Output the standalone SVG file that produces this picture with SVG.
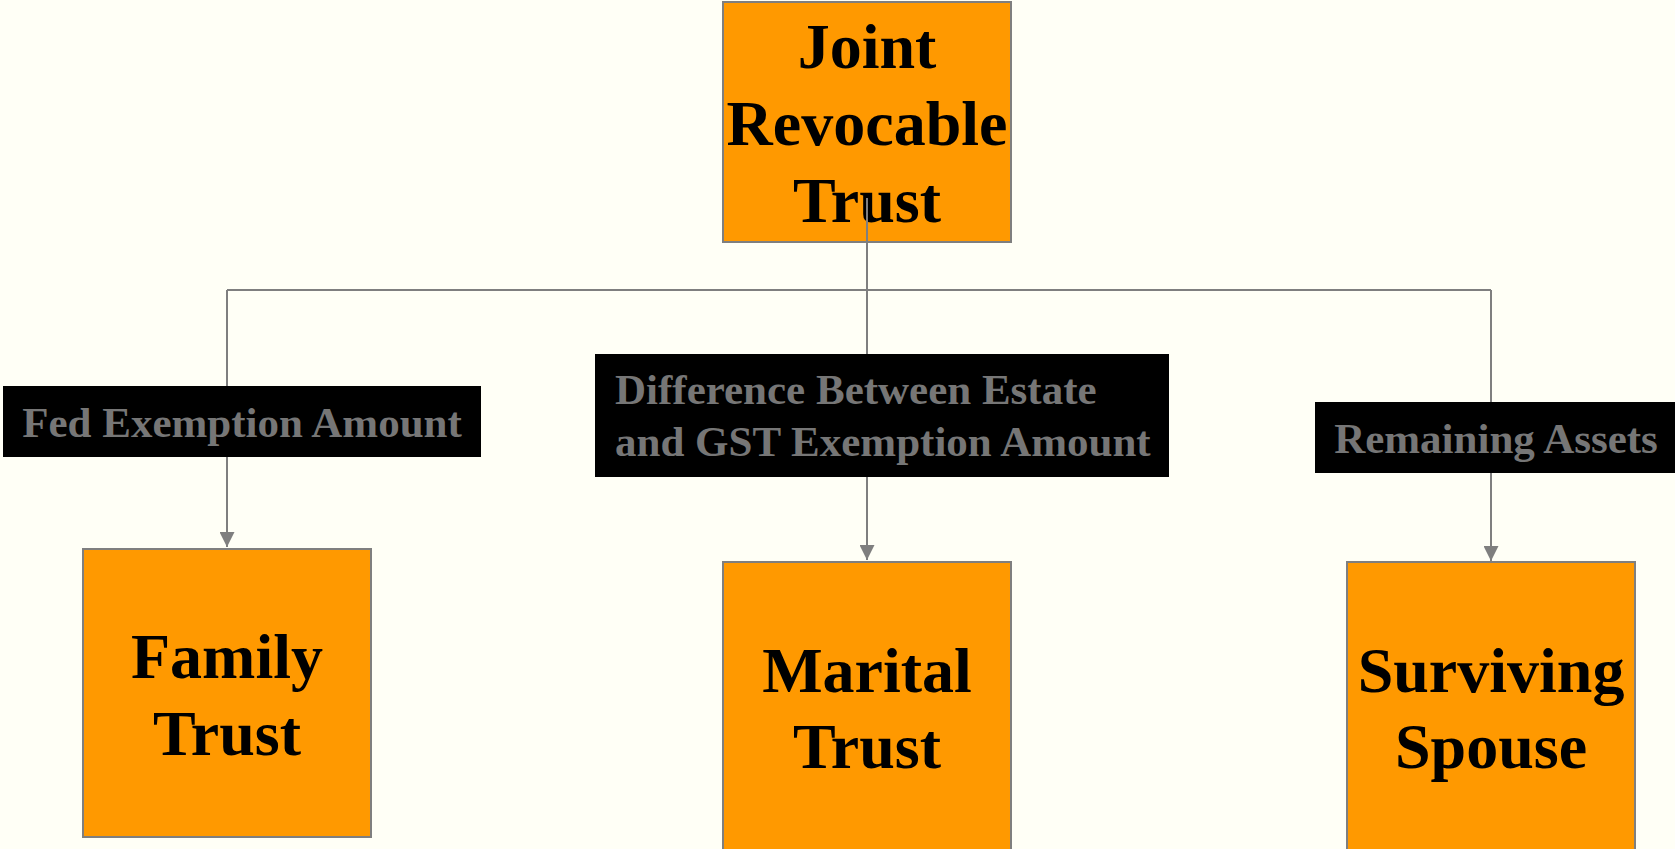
<svg xmlns="http://www.w3.org/2000/svg" width="1675" height="849" viewBox="0 0 1675 849">
<style>
.box{fill:#FF9900;stroke:#7F7F7F;stroke-width:2}
.nt{font-family:"Liberation Serif","Times New Roman",serif;font-weight:bold;font-size:64px;fill:#000;text-anchor:middle}
.lb{fill:#000}
.lt{font-family:"Liberation Serif","Times New Roman",serif;font-weight:bold;font-size:43px;fill:#767676}
.cn{fill:none;stroke:#7F7F7F;stroke-width:2}
</style>
<defs>
<marker id="arr" viewBox="0 0 10 10" refX="10" refY="5" markerWidth="15" markerHeight="15" markerUnits="userSpaceOnUse" orient="auto">
<path d="M0,0 L10,5 L0,10 z" fill="#7F7F7F"/>
</marker>
</defs>
<rect width="1675" height="849" fill="#FFFFF6"/>
<g id="joint">
<rect class="box" x="723" y="2" width="288" height="240"/>
<text class="nt" x="867" y="68">Joint</text>
<text class="nt" x="867" y="145">Revocable</text>
<text class="nt" x="867" y="222">Trust</text>
</g>
<g id="family">
<rect class="box" x="83" y="549" width="288" height="288"/>
<text class="nt" x="227" y="678">Family</text>
<text class="nt" x="227" y="755">Trust</text>
</g>
<g id="marital">
<rect class="box" x="723" y="562" width="288" height="300"/>
<text class="nt" x="867" y="692">Marital</text>
<text class="nt" x="867" y="768">Trust</text>
</g>
<g id="spouse">
<rect class="box" x="1347" y="562" width="288" height="300"/>
<text class="nt" x="1491" y="692">Surviving</text>
<text class="nt" x="1491" y="768">Spouse</text>
</g>
<g id="connectors">
<path class="cn" d="M867,198 V290"/>
<path class="cn" d="M227,290 H1491"/>
<path class="cn" d="M227,290 V547" marker-end="url(#arr)"/>
<path class="cn" d="M867,290 V560" marker-end="url(#arr)"/>
<path class="cn" d="M1491,290 V561" marker-end="url(#arr)"/>
<g id="label-fed">
<rect class="lb" x="3" y="386" width="478" height="71"/>
<text class="lt" x="242" y="437" text-anchor="middle">Fed Exemption Amount</text>
</g>
<g id="label-diff">
<rect class="lb" x="595" y="354" width="574" height="123"/>
<text class="lt" x="615" y="404">Difference Between Estate</text>
<text class="lt" x="615" y="456">and GST Exemption Amount</text>
</g>
<g id="label-rem">
<rect class="lb" x="1315" y="402" width="360" height="71"/>
<text class="lt" x="1496" y="453" text-anchor="middle">Remaining Assets</text>
</g>
</g>
</svg>
